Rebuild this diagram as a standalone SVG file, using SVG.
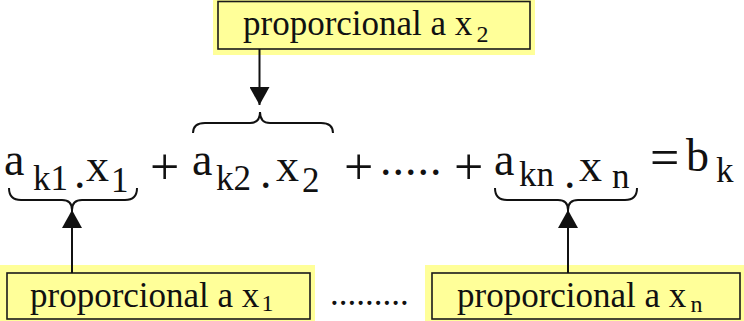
<svg xmlns="http://www.w3.org/2000/svg" width="744" height="321" viewBox="0 0 744 321">
<style>
.bg{fill:#FFFF99;stroke:none}
.box{fill:#FFFF99;stroke:#1a1a1a;stroke-width:1.6}
text{font-family:"Liberation Serif","Times New Roman",serif;fill:#111}
.lbl{font-size:35px}
.sub{font-size:24px}
.m{font-size:46px}
.op{font-size:52px}
.s{font-size:35px}
.brace{fill:none;stroke:#111;stroke-width:2}
.conn{fill:none;stroke:#111;stroke-width:2}
</style>
<defs>
<marker id="ah" markerUnits="userSpaceOnUse" markerWidth="20" markerHeight="20" viewBox="0 0 20 20" refX="18" refY="10" orient="auto">
<path d="M0,0 L18,10 L0,20 Z" fill="#111"/>
</marker>
</defs>
<rect width="744" height="321" fill="#fff"/>

<g id="box-x2">
<rect class="bg" x="213" y="0" width="322" height="55"/>
<rect class="box" x="218" y="1.5" width="312" height="47.5"/>
<text class="lbl" x="243" y="35" font-family="Liberation Serif, serif">proporcional a x<tspan class="sub" dx="4" dy="7">2</tspan></text>
</g>

<g id="box-x1">
<rect class="bg" x="0" y="265" width="315" height="56"/>
<rect class="box" x="7" y="273" width="303" height="46"/>
<text class="lbl" x="30" y="307" font-family="Liberation Serif, serif">proporcional a x<tspan class="sub" dx="2" dy="4">1</tspan></text>
</g>

<g id="box-xn">
<rect class="bg" x="425" y="265" width="319" height="56"/>
<rect class="box" x="432" y="273" width="308" height="46"/>
<text class="lbl" x="457" y="307" font-family="Liberation Serif, serif">proporcional a x<tspan class="sub" dx="4" dy="5">n</tspan></text>
</g>

<g id="dots-middle">
<text class="lbl" x="330" y="305" font-family="Liberation Serif, serif">.........</text>
</g>

<g id="equation" font-family="Liberation Serif, serif">
<text class="m" x="4" y="175">a</text>
<text class="s" x="33" y="190">k1</text>
<text class="m" x="74" y="188">.</text>
<text class="m" x="86" y="181">x</text>
<text class="s" x="111" y="192">1</text>
<text class="op" x="150" y="184">+</text>
<text class="m" x="192" y="175">a</text>
<text class="s" x="216" y="190">k2</text>
<text class="m" x="260" y="188">.</text>
<text class="m" x="276" y="181">x</text>
<text class="s" x="302" y="192">2</text>
<text class="op" x="344" y="184">+</text>
<text class="m" x="380" y="175" letter-spacing="1">.....</text>
<text class="op" x="454" y="184">+</text>
<text class="m" x="494" y="175">a</text>
<text class="s" x="519" y="186">kn</text>
<text class="m" x="564" y="188">.</text>
<text class="m" x="579" y="181">x</text>
<text class="s" x="612" y="188">n</text>
<text class="op" x="650" y="175">=</text>
<text class="m" x="686" y="171">b</text>
<text class="s" x="716" y="182">k</text>
</g>

<g id="brace-1">
<path class="brace" d="M9,188 Q9,200 21,200 L62,200 Q72,200 72,210 Q72,200 82,200 L125,200 Q137,200 137,188"/>
</g>
<g id="brace-2">
<path class="brace" d="M193,133 Q193,123 205,123 L250,123 Q260,123 260,112 Q260,123 270,123 L321,123 Q333,123 333,133"/>
</g>
<g id="brace-n">
<path class="brace" d="M495,188 Q495,200 507,200 L558,200 Q568,200 568,210 Q568,200 578,200 L625,200 Q637,200 637,188"/>
</g>

<g id="connectors">
<line class="conn" x1="259.5" y1="49" x2="259.5" y2="105" marker-end="url(#ah)"/>
<line class="conn" x1="72" y1="273" x2="72" y2="210" marker-end="url(#ah)"/>
<line class="conn" x1="568" y1="273" x2="568" y2="210" marker-end="url(#ah)"/>
</g>
</svg>
